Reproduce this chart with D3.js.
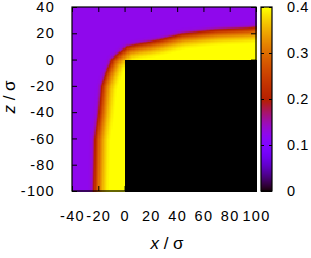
<!DOCTYPE html>
<html>
<head>
<meta charset="utf-8">
<script src="https://cdn.jsdelivr.net/npm/d3@7"></script>
<style>
  body { margin: 0; background: #fff; }
  text { font-family: "Liberation Sans", Arial, sans-serif; }
</style>
</head>
<body>
<svg id="chart" width="311" height="258"></svg>
<script>
// liquid/vapour interface, (x, z) in sigma
const interfaceX = [-24, -23.5, -22.5, -21, -19.5, -17.4, -14, -9.6, -5.5, 2, 10, 19, 27, 44, 70, 95, 100, 105]
const interfaceZ = [-105, -100, -60, -50, -40, -20, -10, 0, 4, 10, 12, 13.6, 15.4, 20, 23, 24.3, 25, 25.3]
// density across the interface vs signed distance (positive = inside the film)
const profileDist = [-5, -3, -1.5, 0, 1.5, 3, 4.5, 7, 10, 14]
const profileRho = [0.125, 0.13, 0.15, 0.2, 0.25, 0.29, 0.32, 0.36, 0.39, 0.41]
// the wall (black block)
const wallX = [0, 100]
const wallZ = [-100, 0]

const xTicks = [-40, -20, 0, 20, 40, 60, 80, 100]
const zTicks = [-100, -80, -60, -40, -20, 0, 20, 40]
const cbTicks = [0, 0.1, 0.2, 0.3, 0.4]

const svg = d3.select('#chart')
const mLeft = 72, mTop = 7, w = 184, h = 184
const cbLeft = 261, cbWidth = 11

const x = d3.scaleLinear().domain([-40, 100]).range([mLeft, mLeft + w])
const y = d3.scaleLinear().domain([-100, 40]).range([mTop + h, mTop])
const cbY = d3.scaleLinear().domain([0, 0.4]).range([mTop + h, mTop])

// gnuplot rgbformulae 7,5,15
function palette (v) {
  const t = Math.max(0, Math.min(1, v / 0.4))
  const r = Math.sqrt(t), g = t * t * t, b = Math.max(0, Math.sin(2 * Math.PI * t))
  return d3.rgb(r * 255, g * 255, Math.min(1, b) * 255)
}

const rhoAt = d3.scaleLinear().domain(profileDist).range(profileRho).clamp(true)

const pts = interfaceX.map((d, i) => [d, interfaceZ[i]])
const filmPoly = pts.concat([[105, -105]])

function segDist (px, pz, a, b) {
  const dx = b[0] - a[0], dz = b[1] - a[1]
  let t = ((px - a[0]) * dx + (pz - a[1]) * dz) / (dx * dx + dz * dz)
  t = Math.max(0, Math.min(1, t))
  return Math.hypot(px - a[0] - t * dx, pz - a[1] - t * dz)
}

const cells = []
for (let i = -40; i < 100; i++) {
  for (let k = -100; k < 40; k++) {
    const cx = i + 0.5, cz = k + 0.5
    let v
    if (cx > wallX[0] && cx < wallX[1] && cz > wallZ[0] && cz < wallZ[1]) {
      v = 0
    } else {
      let d = Infinity
      for (let s = 0; s < pts.length - 1; s++) d = Math.min(d, segDist(cx, cz, pts[s], pts[s + 1]))
      v = rhoAt(d3.polygonContains(filmPoly, [cx, cz]) ? d : -d)
    }
    cells.push({ i, k, v })
  }
}

svg.append('g')
  .selectAll('rect')
  .data(cells)
  .enter().append('rect')
  .attr('x', d => x(d.i))
  .attr('y', d => y(d.k + 1))
  .attr('width', x(1) - x(0) + 0.6)
  .attr('height', y(0) - y(1) + 0.6)
  .attr('fill', d => palette(d.v))
  .attr('shape-rendering', 'crispEdges')

// colour box
const cbSteps = d3.range(0, 0.4, 0.4 / 184)
svg.append('g')
  .selectAll('rect')
  .data(cbSteps)
  .enter().append('rect')
  .attr('x', cbLeft)
  .attr('y', d => cbY(d + 0.4 / 184))
  .attr('width', cbWidth)
  .attr('height', cbY(0) - cbY(0.4 / 184) + 0.5)
  .attr('fill', d => palette(d + 0.2 / 184))
  .attr('shape-rendering', 'crispEdges')

const tick = 5

function styleAxis (g) {
  g.select('.domain').remove()
  g.selectAll('line').attr('stroke', '#000')
  g.selectAll('text').attr('fill', '#000').attr('font-size', 14.5)
    .attr('font-family', '"Liberation Sans", Arial, sans-serif')
    .attr('letter-spacing', 1.3)
}

svg.append('g').attr('transform', `translate(0,${mTop + h})`)
  .call(d3.axisBottom(x).tickValues(xTicks).tickSize(-tick).tickPadding(20).tickFormat(d => String(d)))
  .call(styleAxis)
svg.append('g').attr('transform', `translate(0,${mTop})`)
  .call(d3.axisTop(x).tickValues(xTicks).tickSize(-tick).tickFormat(''))
  .call(styleAxis)
svg.append('g').attr('transform', `translate(${mLeft},0)`)
  .call(d3.axisLeft(y).tickValues(zTicks).tickSize(-tick).tickPadding(17).tickFormat(d => String(d)))
  .call(styleAxis)
svg.append('g').attr('transform', `translate(${mLeft + w},0)`)
  .call(d3.axisRight(y).tickValues(zTicks).tickSize(-tick).tickFormat(''))
  .call(styleAxis)

svg.append('rect')
  .attr('x', mLeft).attr('y', mTop).attr('width', w).attr('height', h)
  .attr('fill', 'none').attr('stroke', '#000').attr('stroke-width', 1.2)

// colour box ticks and labels
svg.append('g').attr('transform', `translate(${cbLeft},0)`)
  .call(d3.axisLeft(cbY).tickValues(cbTicks).tickSize(-3).tickFormat(''))
  .call(styleAxis)
svg.append('g').attr('transform', `translate(${cbLeft + cbWidth},0)`)
  .call(d3.axisRight(cbY).tickValues(cbTicks).tickSize(-3).tickPadding(15).tickFormat(d => d === 0 ? '0' : d3.format('.1f')(d)))
  .call(styleAxis)
  .call(g => g.selectAll('text').attr('letter-spacing', 0.6))
svg.append('rect')
  .attr('x', cbLeft).attr('y', mTop).attr('width', cbWidth).attr('height', h)
  .attr('fill', 'none').attr('stroke', '#000').attr('stroke-width', 1.2)

// axis titles
const serif = '"Liberation Serif", "Times New Roman", serif'
const xl = svg.append('text')
  .attr('x', mLeft + w / 2 + 3).attr('y', 249)
  .attr('text-anchor', 'middle').attr('font-family', serif).attr('font-size', 17)
xl.append('tspan').attr('font-style', 'italic').text('x')
xl.append('tspan').text(' / σ')

const yl = svg.append('text')
  .attr('transform', 'translate(15,97) rotate(-90)')
  .attr('text-anchor', 'middle').attr('font-family', serif).attr('font-size', 17)
yl.append('tspan').attr('font-style', 'italic').text('z')
yl.append('tspan').text(' / σ')
</script>
</body>
</html>
